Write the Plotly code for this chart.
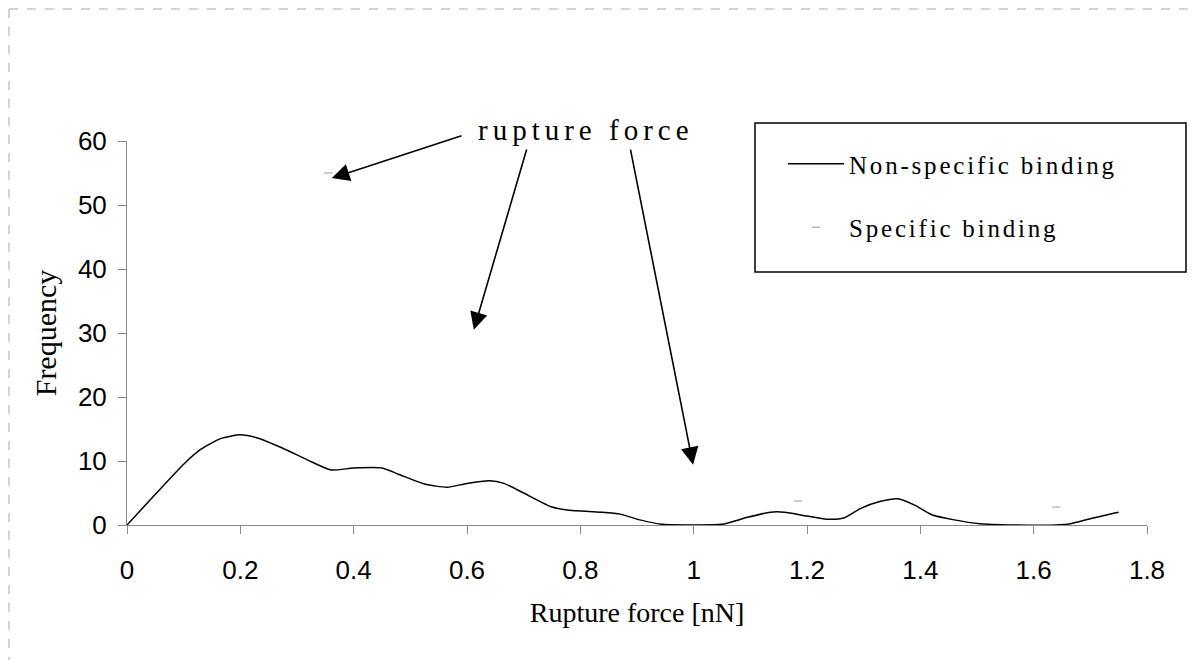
import plotly.graph_objects as go

# Non-specific binding curve
force_ns = [0, 0.05, 0.1, 0.13, 0.165, 0.2, 0.23, 0.275, 0.32, 0.36, 0.4, 0.45, 0.48,
            0.525, 0.565, 0.6, 0.64, 0.665, 0.7, 0.75, 0.78, 0.835, 0.87, 0.905, 0.945,
            1.0, 1.05, 1.095, 1.135, 1.16, 1.2, 1.235, 1.265, 1.295, 1.33, 1.36, 1.39,
            1.42, 1.46, 1.505, 1.565, 1.64, 1.665, 1.705, 1.75]
freq_ns = [0, 4.8, 9.5, 11.8, 13.5, 14.1, 13.6, 12.0, 10.1, 8.6, 8.9, 8.9, 7.9,
           6.4, 5.9, 6.5, 6.9, 6.5, 5.0, 2.8, 2.3, 2.0, 1.7, 0.8, 0.1,
           0, 0.1, 1.2, 2.0, 2.0, 1.4, 0.9, 1.1, 2.6, 3.7, 4.1, 3.1,
           1.6, 0.8, 0.2, 0, 0, 0.2, 1.1, 2.0]

# Specific binding: only faint fragments visible
force_sp = [0.355, 1.184, 1.64]
freq_sp = [55, 3.75, 2.8]

x_ticks = [0, 0.2, 0.4, 0.6, 0.8, 1, 1.2, 1.4, 1.6, 1.8]
x_tick_labels = ["0", "0.2", "0.4", "0.6", "0.8", "1", "1.2", "1.4", "1.6", "1.8"]
y_ticks = [0, 10, 20, 30, 40, 50, 60]

# arrows: (head_x, head_y, tail_x, tail_y)
arrows = [(0.3615, 54.2, 0.593, 60.9),
          (0.612, 30.5, 0.706, 58.9),
          (0.999, 9.4, 0.888, 58.9)]

W, H = 1192, 660
L, R, T, B = 127, 45, 141, 135
PW, PH = W - L - R, H - T - B

def px(x):
    return (x - L) / PW

def py(y):
    return (H - B - y) / PH

fig = go.Figure()
fig.add_trace(go.Scatter(
    x=force_ns, y=freq_ns, mode="lines",
    line=dict(color="black", width=1.5, shape="spline", smoothing=0.6),
    name="<span style='letter-spacing:2.8px'>Non-specific binding</span>",
    legendgroup="a",
))
fig.add_trace(go.Scatter(
    x=force_sp, y=freq_sp, mode="markers",
    marker=dict(symbol="line-ew-open", size=6, color="#9a9a9a",
                line=dict(color="#9a9a9a", width=1)),
    name="<span style='letter-spacing:2.8px'>Specific binding</span>",
    legendgroup="b",
))

ann = []
for hx, hy, tx, ty in arrows:
    ann.append(dict(x=hx, y=hy, ax=tx, ay=ty, xref="x", yref="y", axref="x", ayref="y",
                    text="", showarrow=True, arrowhead=2, arrowsize=2.2,
                    arrowwidth=1.6, arrowcolor="black", standoff=0, startstandoff=0))
ann.append(dict(x=px(586), y=py(130), xref="paper", yref="paper",
                text="<span style='letter-spacing:5px'>rupture force</span>",
                showarrow=False, xanchor="center", yanchor="middle",
                font=dict(family="Liberation Serif", size=29, color="black")))

border = dict(color="#a8a8a8", width=1, dash="dash")
shapes = [
    dict(type="rect", xref="paper", yref="paper",
         x0=px(755), x1=px(1186), y0=py(272), y1=py(123),
         line=dict(color="black", width=1.5), fillcolor="rgba(0,0,0,0)"),
    dict(type="line", xref="paper", yref="paper",
         x0=px(9), x1=px(1192), y0=py(9), y1=py(9), line=border),
    dict(type="line", xref="paper", yref="paper",
         x0=px(9), x1=px(9), y0=py(9), y1=py(660), line=border),
]

fig.update_layout(
    width=W, height=H, autosize=False,
    margin=dict(l=L, r=R, t=T, b=B),
    paper_bgcolor="white", plot_bgcolor="white",
    showlegend=True,
    legend=dict(x=px(783), y=py(141), xanchor="left", yanchor="top",
                bgcolor="rgba(0,0,0,0)", borderwidth=0,
                font=dict(family="Liberation Serif", size=25, color="black"),
                itemwidth=56, tracegroupgap=28, traceorder="grouped"),
    annotations=ann, shapes=shapes,
    xaxis=dict(range=[0, 1.8], tickmode="array", tickvals=x_ticks, ticktext=x_tick_labels,
               showline=True, linecolor="#8a8a8a", linewidth=1,
               ticks="outside", ticklen=8, tickcolor="#8a8a8a", ticklabelstandoff=14,
               showgrid=False, zeroline=False,
               tickfont=dict(family="Liberation Sans", size=26, color="black"),
               title=dict(text="Rupture force [nN]", standoff=18,
                          font=dict(family="Liberation Serif", size=28, color="black"))),
    yaxis=dict(range=[0, 60], tickmode="array", tickvals=y_ticks,
               showline=True, linecolor="#8a8a8a", linewidth=1,
               ticks="outside", ticklen=8, tickcolor="#8a8a8a", ticklabelstandoff=6,
               showgrid=False, zeroline=False,
               tickfont=dict(family="Liberation Sans", size=26, color="black"),
               title=dict(text="Frequency", standoff=12,
                          font=dict(family="Liberation Serif", size=30, color="black"))),
)

fig.write_html("out.html")
